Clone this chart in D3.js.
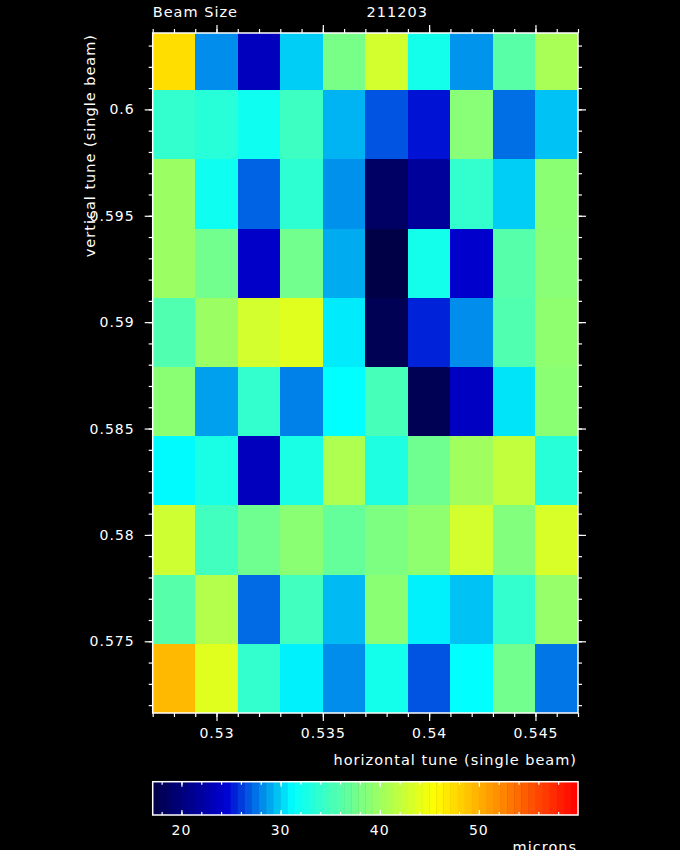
<!DOCTYPE html>
<html>
<head>
  <meta http-equiv="Content-Type" content="text/html; charset=UTF-8">
  <script src="https://d3js.org/d3.v7.min.js"></script>
  <style>
    body { margin:0; background:#000; }
    text { font-family: "DejaVu Sans", sans-serif; font-size: 14px; fill: #fff; letter-spacing: 1px; }
    text.title { font-size: 14.5px; }
  </style>
</head>
<body>
  <svg width="680" height="850"></svg>
  <script>
    // scan points (cell centres)
    var xTunes = [0.528, 0.530, 0.532, 0.534, 0.536, 0.538, 0.540, 0.542, 0.544, 0.546];
    var yTunes = [0.60252, 0.59927, 0.59602, 0.59277, 0.58952, 0.58627, 0.58301, 0.57976, 0.57651, 0.57326]; // top -> bottom
    // beam size in microns, one row per yTune
    var beamSize = [
      [47.4, 28.2, 23.4, 29.9, 37.9, 43.0, 32.3, 28.4, 36.2, 40.7],
      [34.0, 33.4, 32.0, 34.6, 29.2, 26.7, 25.0, 38.8, 27.4, 29.6],
      [39.9, 32.0, 27.1, 33.7, 28.3, 18.7, 21.6, 34.0, 29.9, 39.0],
      [39.9, 37.6, 24.0, 37.6, 29.0, 17.1, 32.3, 24.2, 36.0, 38.8],
      [35.7, 39.9, 43.0, 43.8, 30.7, 17.9, 25.4, 28.2, 35.7, 39.3],
      [39.0, 28.7, 34.0, 27.9, 31.2, 35.1, 17.9, 23.7, 30.5, 39.0],
      [31.1, 32.6, 23.4, 32.6, 41.0, 32.9, 37.4, 40.2, 42.1, 33.4],
      [42.7, 34.8, 37.4, 39.0, 36.8, 38.2, 39.3, 43.0, 38.5, 43.3],
      [36.0, 41.3, 27.3, 34.8, 29.4, 39.0, 30.8, 29.6, 34.0, 39.6],
      [49.5, 43.8, 34.0, 30.8, 28.2, 32.3, 26.7, 31.2, 37.6, 27.6]
    ];
    var xTicks = [0.53, 0.535, 0.54, 0.545];
    var yTicks = [0.6, 0.595, 0.59, 0.585, 0.58, 0.575];
    var zTicks = [20, 30, 40, 50];

    var cellW = 0.002, cellH = 0.00325;
    var zMin = 17.1, zMax = 60, nBands = 60;

    var svg = d3.select("svg");
    svg.append("rect").attr("width", 680).attr("height", 850).attr("fill", "#000");

    var x = d3.scaleLinear().domain([0.527, 0.547]).range([152.7, 578]);
    var y = d3.scaleLinear().domain([0.57163, 0.60359]).range([713, 33]);

    var color = d3.scaleLinear()
        .domain([17.1, 24.5, 31.2, 45.5, 60])
        .range(["#000046", "#0000d2", "#00ffff", "#ffff00", "#ff0000"])
        .interpolate(d3.interpolateRgb)
        .clamp(true);

    svg.append("clipPath").attr("id", "plotclip")
      .append("rect")
        .attr("x", x.range()[0]).attr("y", 33)
        .attr("width", x.range()[1] - x.range()[0]).attr("height", 713 - 33);

    var cells = [];
    yTunes.forEach(function(yt, i) {
      xTunes.forEach(function(xt, j) {
        cells.push({x: xt, y: yt, v: beamSize[i][j]});
      });
    });

    svg.append("g").attr("clip-path", "url(#plotclip)")
      .selectAll("rect")
      .data(cells)
      .enter().append("rect")
        .attr("x", function(d) { return x(d.x - cellW / 2); })
        .attr("y", function(d) { return y(d.y + cellH / 2); })
        .attr("width", function(d) { return x(d.x + cellW / 2) - x(d.x - cellW / 2) + 1; })
        .attr("height", function(d) { return y(d.y - cellH / 2) - y(d.y + cellH / 2) + 1; })
        .attr("shape-rendering", "crispEdges")
        .attr("fill", function(d) { return color(d.v); });

    // axes: ticks on all four sides, pointing out
    function styleAxis(g) {
      g.select(".domain").remove();
      g.selectAll("line").attr("stroke", "#fff").attr("stroke-width", 1.2);
    }
    var xMinor = d3.range(0.527, 0.5471, 0.001);
    var yMinor = d3.range(0.572, 0.6036, 0.001);

    svg.append("g").attr("transform", "translate(0,713)")
      .call(d3.axisBottom(x).tickValues(xMinor).tickSize(4).tickFormat(""))
      .call(styleAxis);
    svg.append("g").attr("transform", "translate(0,713)")
      .call(d3.axisBottom(x).tickValues(xTicks).tickSize(8).tickPadding(7).tickFormat(d3.format("")))
      .call(styleAxis)
      .selectAll("text").attr("fill", "#fff").style("font-size", "14px").attr("font-family", null);
    svg.append("g").attr("transform", "translate(0,33)")
      .call(d3.axisTop(x).tickValues(xMinor).tickSize(4).tickFormat(""))
      .call(styleAxis);
    svg.append("g").attr("transform", "translate(0,33)")
      .call(d3.axisTop(x).tickValues(xTicks).tickSize(8).tickFormat(""))
      .call(styleAxis);

    svg.append("g").attr("transform", "translate(152.7,0)")
      .call(d3.axisLeft(y).tickValues(yMinor).tickSize(4).tickFormat(""))
      .call(styleAxis);
    svg.append("g").attr("transform", "translate(152.7,0)")
      .call(d3.axisLeft(y).tickValues(yTicks).tickSize(8).tickPadding(10).tickFormat(d3.format("")))
      .call(styleAxis)
      .selectAll("text").attr("fill", "#fff").style("font-size", "14px").attr("font-family", null);
    svg.append("g").attr("transform", "translate(578,0)")
      .call(d3.axisRight(y).tickValues(yMinor).tickSize(4).tickFormat(""))
      .call(styleAxis);
    svg.append("g").attr("transform", "translate(578,0)")
      .call(d3.axisRight(y).tickValues(yTicks).tickSize(8).tickFormat(""))
      .call(styleAxis);

    svg.append("rect")
      .attr("x", 152.7).attr("y", 33).attr("width", 578 - 152.7).attr("height", 713 - 33)
      .attr("fill", "none").attr("stroke", "#fff").attr("stroke-width", 1.5);

    // titles
    svg.append("text").attr("class", "title").attr("x", 152.7).attr("y", 17).text("Beam Size");
    svg.append("text").attr("class", "title").attr("x", 366.5).attr("y", 17).text("211203");
    svg.append("text").attr("class", "title").attr("x", 577).attr("y", 765).attr("text-anchor", "end")
      .text("horizontal tune (single beam)");
    svg.append("text").attr("class", "title").attr("transform", "translate(95,34) rotate(-90)").attr("text-anchor", "end")
      .text("vertical tune (single beam)");

    // colour bar
    var cbTop = 781.7, cbBottom = 815;
    var z = d3.scaleLinear().domain([zMin, zMax]).range([152.7, 578]);
    var bandW = (zMax - zMin) / nBands;
    var bands = d3.range(nBands).map(function(i) { return zMin + i * bandW; });

    svg.append("g").selectAll("rect")
      .data(bands)
      .enter().append("rect")
        .attr("x", function(d) { return z(d); })
        .attr("y", cbTop)
        .attr("width", z(zMin + bandW) - z(zMin) + 0.5)
        .attr("height", cbBottom - cbTop)
        .attr("fill", function(d) { return color(d + bandW / 2); });

    var zMinor = d3.range(18, 60, 2);
    svg.append("g").attr("transform", "translate(0," + cbTop + ")")
      .call(d3.axisBottom(z).tickValues(zMinor).tickSize(3).tickFormat(""))
      .call(styleAxis);
    svg.append("g").attr("transform", "translate(0," + cbTop + ")")
      .call(d3.axisBottom(z).tickValues(zTicks).tickSize(5).tickFormat(""))
      .call(styleAxis);
    svg.append("g").attr("transform", "translate(0," + cbBottom + ")")
      .call(d3.axisTop(z).tickValues(zMinor).tickSize(3).tickFormat(""))
      .call(styleAxis);
    svg.append("g").attr("transform", "translate(0," + cbBottom + ")")
      .call(d3.axisTop(z).tickValues(zTicks).tickSize(5).tickFormat(""))
      .call(styleAxis);

    svg.append("g").selectAll("text.zl")
      .data(zTicks)
      .enter().append("text")
        .attr("class", "zl")
        .attr("x", function(d) { return z(d); })
        .attr("y", 835)
        .attr("text-anchor", "middle")
        .text(function(d) { return d; });

    svg.append("rect")
      .attr("x", 152.7).attr("y", cbTop).attr("width", 578 - 152.7).attr("height", cbBottom - cbTop)
      .attr("fill", "none").attr("stroke", "#fff").attr("stroke-width", 1.5);

    svg.append("text").attr("class", "title").attr("x", 577).attr("y", 852).attr("text-anchor", "end").text("microns");
  </script>
</body>
</html>
